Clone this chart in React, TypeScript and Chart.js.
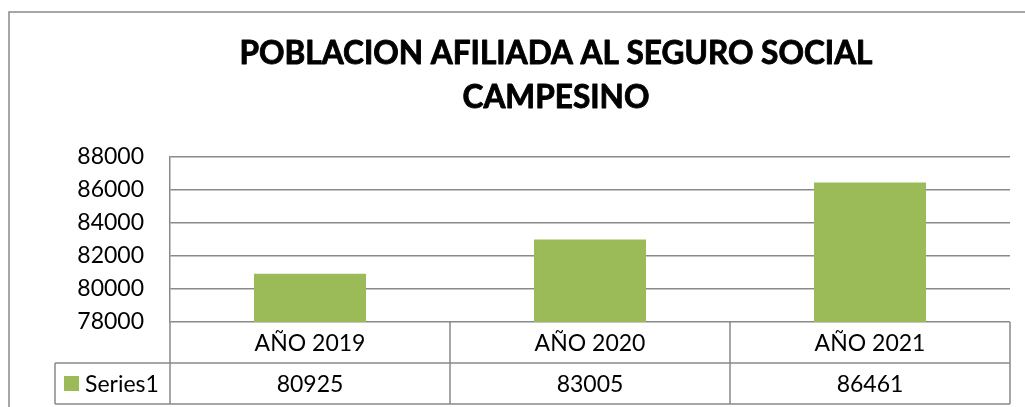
import React, { useEffect, useRef } from "react";
import { Chart, registerables } from "chart.js";

Chart.register(...registerables);

const titleLines = ["POBLACION AFILIADA AL SEGURO SOCIAL", "CAMPESINO"];
const categories = ["AÑO 2019", "AÑO 2020", "AÑO 2021"];
const seriesName = "Series1";
const seriesValues = [80925, 83005, 86461];
const yMin = 78000;
const yMax = 88000;
const yStep = 2000;

const GRID = "#898989";
const BAR = "#9BBB59";
const FONT = "Lato, 'Noto Sans', sans-serif";

const tablePlugin = {
  id: "tablePlugin",
  afterDraw(chart: any) {
    const ctx = chart.ctx as CanvasRenderingContext2D;
    const area = chart.chartArea;
    const xs = chart.scales.x;
    ctx.save();
    // outer border
    ctx.strokeStyle = GRID;
    ctx.lineWidth = 1.5;
    ctx.beginPath();
    ctx.moveTo(9, 500);
    ctx.lineTo(9, 12);
    ctx.lineTo(1100, 12);
    ctx.stroke();

    // title
    ctx.fillStyle = "#000";
    ctx.strokeStyle = "#000";
    ctx.lineWidth = 0.9;
    ctx.lineJoin = "round";
    ctx.textAlign = "center";
    ctx.textBaseline = "alphabetic";
    ctx.font = `bold 32px ${FONT}`;
    const w = ctx.measureText(titleLines[0]).width;
    const sx = 633 / w;
    ctx.save();
    ctx.translate(556, 0);
    ctx.scale(sx, 1);
    ctx.fillText(titleLines[0], 0, 64);
    ctx.strokeText(titleLines[0], 0, 64);
    ctx.fillText(titleLines[1], 0, 108);
    ctx.strokeText(titleLines[1], 0, 108);
    ctx.restore();

    // table
    const top = area.bottom;
    const rowMid = 363;
    const bottom = 404;
    const tableLeft = 55;
    const n = categories.length;
    const half = (area.right - area.left) / n / 2;
    ctx.strokeStyle = GRID;
    ctx.lineWidth = 1.5;
    ctx.beginPath();
    ctx.moveTo(tableLeft, rowMid);
    ctx.lineTo(area.right, rowMid);
    ctx.moveTo(tableLeft, bottom);
    ctx.lineTo(area.right, bottom);
    ctx.moveTo(tableLeft, rowMid);
    ctx.lineTo(tableLeft, bottom);
    ctx.moveTo(area.left, top);
    ctx.lineTo(area.left, bottom);
    for (let i = 0; i < n; i++) {
      const xr = xs.getPixelForValue(i) + half;
      ctx.moveTo(xr, top);
      ctx.lineTo(xr, bottom);
    }
    ctx.stroke();

    ctx.fillStyle = "#000";
    ctx.font = `23px ${FONT}`;
    ctx.textBaseline = "middle";
    ctx.textAlign = "center";
    for (let i = 0; i < n; i++) {
      const cx = xs.getPixelForValue(i);
      ctx.fillText(categories[i], cx, (top + rowMid) / 2 + 1);
      ctx.fillText(String(seriesValues[i]), cx, (rowMid + bottom) / 2 + 1);
    }
    // legend key
    ctx.fillStyle = BAR;
    ctx.fillRect(64, 376, 15, 15);
    ctx.fillStyle = "#000";
    ctx.textAlign = "left";
    ctx.fillText(seriesName, 85, (rowMid + bottom) / 2 + 1);
    ctx.restore();
  },
};

export default function App() {
  const ref = useRef<HTMLCanvasElement | null>(null);
  useEffect(() => {
    if (!ref.current) return;
    const chart = new Chart(ref.current, {
      type: "bar",
      data: {
        labels: categories,
        datasets: [
          {
            label: seriesName,
            data: seriesValues,
            backgroundColor: BAR,
            borderWidth: 0,
            categoryPercentage: 0.4,
            barPercentage: 1,
          },
        ],
      },
      options: {
        responsive: false,
        animation: false,
        devicePixelRatio: 1,
        layout: { padding: { left: 0, top: 157, right: 15, bottom: 85 } },
        plugins: {
          legend: { display: false },
          title: { display: false },
          tooltip: { enabled: false },
        },
        scales: {
          x: { display: false },
          y: {
            min: yMin,
            max: yMax,
            afterFit: (scale: any) => {
              scale.width = 170;
            },
            ticks: {
              stepSize: yStep,
              padding: 26,
              color: "#000",
              font: { family: FONT, size: 23 },
              callback: (v: any) => String(v),
            },
            grid: { color: GRID, lineWidth: 1.5, drawTicks: false },
            border: { display: true, color: GRID, width: 1.5 },
          },
        },
      },
      plugins: [tablePlugin],
    });
    return () => chart.destroy();
  }, []);
  return (
    <div style={{ position: "fixed", left: 0, top: 0, width: 1025, height: 407, background: "#fff", overflow: "hidden" }}>
      <canvas ref={ref} width={1025} height={407} style={{ display: "block" }} />
    </div>
  );
}
